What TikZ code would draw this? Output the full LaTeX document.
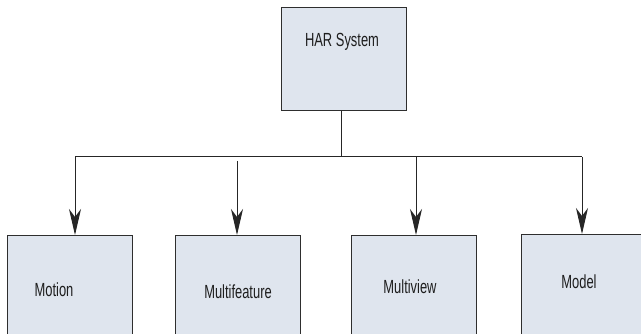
\documentclass[tikz,border=0pt]{standalone}
\usepackage{fontspec}
\setmainfont{Liberation Sans}
\usetikzlibrary{arrows.meta}
\definecolor{boxfill}{HTML}{DFE5EE}
\definecolor{boxline}{HTML}{2E2E2E}
\definecolor{txt}{HTML}{1E1E1E}
\begin{document}
\begin{tikzpicture}[x=1pt,y=-1pt,
  blockbox/.style={draw=boxline, fill=boxfill, line width=1pt, inner sep=0pt, minimum width=125pt, anchor=north west},
  lbl/.style={font=\fontsize{19}{22}\selectfont, text=txt, xscale=0.68, inner sep=0pt},
  conn/.style={draw=black!85, line width=1pt},
  arr/.style={conn, -{Stealth[length=26pt,width=12pt,inset=8pt]}}]
\useasboundingbox (0,0) rectangle (641,334);
\clip (0,0) rectangle (641,334);
% boxes
\node[blockbox, minimum height=103pt] (har) at (281,7) {};
\node[blockbox, minimum height=110pt] (motion) at (7,235) {};
\node[blockbox, minimum height=110pt] (multifeature) at (175,235) {};
\node[blockbox, minimum height=110pt] (multiview) at (351,235) {};
\node[blockbox, minimum height=110pt] (model) at (521,234) {};
% labels
\node[lbl] (tHar) at (342,42) {HAR System};
\node[lbl] (tMotion) at (54,290) {Motion};
\node[lbl] (tMultifeature) at (238,292) {Multifeature};
\node[lbl] (tMultiview) at (410,287) {Multiview};
\node[lbl] (tModel) at (579,282) {Model};
% bus
\coordinate (junc) at (341,157);
\coordinate (busL) at (75,157);
\coordinate (busR) at (582,157);
\coordinate (mfStart) at (237,161);
\coordinate (mvStart) at (416,157);
\draw[conn] (har.south -| junc) -- (junc);
\draw[conn] (busL) -- (busR);
\draw[arr] (busL) -- (busL |- motion.north);
\draw[arr] (mfStart) -- (mfStart |- multifeature.north);
\draw[arr] (mvStart) -- (mvStart |- multiview.north);
\draw[arr] (busR) -- (busR |- model.north);
\end{tikzpicture}
\end{document}
